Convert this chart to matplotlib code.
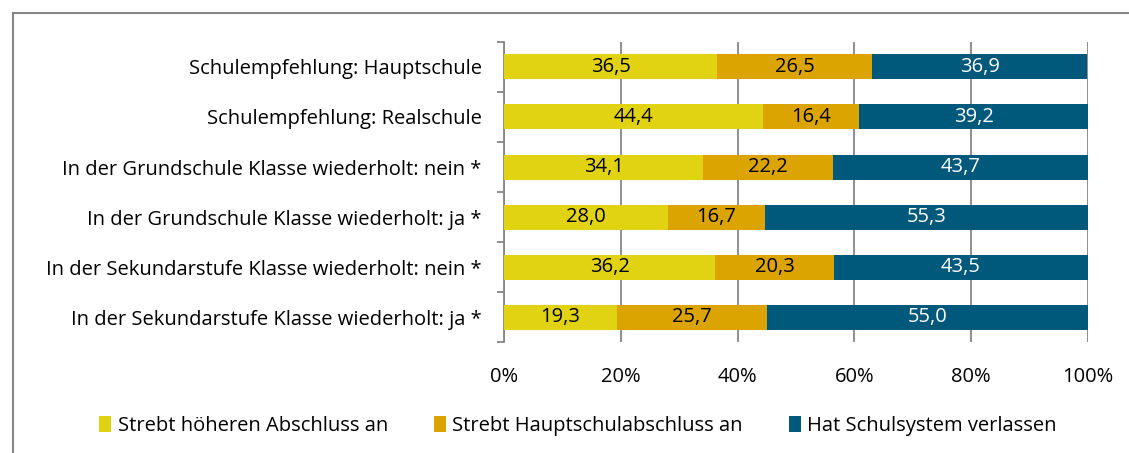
import matplotlib.pyplot as plt
from matplotlib.lines import Line2D
from matplotlib.ticker import FuncFormatter
import numpy as np

categories = [
    "Schulempfehlung: Hauptschule",
    "Schulempfehlung: Realschule",
    "In der Grundschule Klasse wiederholt: nein *",
    "In der Grundschule Klasse wiederholt: ja *",
    "In der Sekundarstufe Klasse wiederholt: nein *",
    "In der Sekundarstufe Klasse wiederholt: ja *",
]
hoeher = [36.5, 44.4, 34.1, 28.0, 36.2, 19.3]
haupt = [26.5, 16.4, 22.2, 16.7, 20.3, 25.7]
verlassen = [36.9, 39.2, 43.7, 55.3, 43.5, 55.0]
series_names = ["Strebt höheren Abschluss an", "Strebt Hauptschulabschluss an",
                "Hat Schulsystem verlassen"]
colors = ["#E2D312", "#DBA400", "#00587A"]
text_colors = ["black", "black", "white"]

plt.rcParams['font.family'] = ['Open Sans', 'DejaVu Sans']
FS = 14.5

fig = plt.figure(figsize=(11.29, 4.53), dpi=100)
ax = fig.add_axes([0.4464, 0.2450, 0.5173, 0.6623])

y = np.arange(len(categories))
left = np.zeros(len(categories))
for vals, col, tcol, name in zip([hoeher, haupt, verlassen], colors, text_colors, series_names):
    vals = np.array(vals)
    ax.barh(y, vals / 100, left=left / 100, height=0.5, color=col, label=name, zorder=3)
    for v, l, yy in zip(vals, left, y):
        ax.text((l + v / 2) / 100, yy, f"{v:.1f}".replace(".", ","), ha="center", va="center",
                color=tcol, fontsize=FS, zorder=4)
    left = left + vals

ax.set_xlim(0, 1)
ax.set_ylim(len(categories) - 0.5, -0.5)
ax.set_yticks(y)
ax.set_yticklabels(categories, fontsize=FS)
ax.set_yticks(np.arange(-0.5, len(categories), 1), minor=True)
ax.tick_params(axis="y", which="major", length=0, pad=16)
ax.tick_params(axis="y", which="minor", length=5, color="#868686", width=1.3)
ax.set_xticks(np.linspace(0, 1, 6))
ax.xaxis.set_major_formatter(FuncFormatter(lambda v, p: f"{v * 100:.0f}%"))
ax.tick_params(axis="x", length=0, labelsize=FS, pad=18)
ax.grid(axis="x", color="#868686", linewidth=1.3, zorder=0)
for s in ["top", "right", "bottom"]:
    ax.spines[s].set_visible(False)
ax.spines["left"].set_color("#868686")
ax.spines["left"].set_linewidth(1.3)

fig.legend(loc="center", bbox_to_anchor=(0.512, 0.06), ncol=3, frameon=False,
           fontsize=FS, handlelength=0.6, handleheight=0.8,
           handletextpad=0.3, columnspacing=2.3)

# outer frame (only left and top visible)
fig.add_artist(Line2D([12.5 / 1129, 12.5 / 1129], [0, 1 - 12.5 / 453], transform=fig.transFigure,
                      color="#868686", linewidth=1.5))
fig.add_artist(Line2D([12.5 / 1129, 1], [1 - 12.5 / 453, 1 - 12.5 / 453], transform=fig.transFigure,
                      color="#868686", linewidth=1.5))

fig.savefig("out.png", dpi=100)
